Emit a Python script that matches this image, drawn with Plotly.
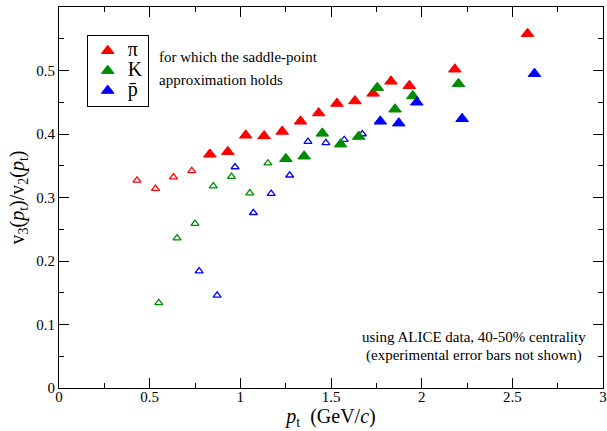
import plotly.graph_objects as go

# ---- data ----
pi_open_x = [0.430, 0.532, 0.631, 0.732]
pi_open_y = [0.327, 0.314, 0.332, 0.342]
pi_fill_x = [0.832, 0.931, 1.030, 1.131, 1.231, 1.332, 1.432, 1.533, 1.632, 1.732, 1.831, 1.932, 2.183, 2.584]
pi_fill_y = [0.368, 0.372, 0.398, 0.397, 0.404, 0.420, 0.433, 0.448, 0.452, 0.464, 0.483, 0.476, 0.502, 0.558]

k_open_x = [0.550, 0.651, 0.750, 0.851, 0.951, 1.052, 1.152]
k_open_y = [0.134, 0.236, 0.259, 0.318, 0.333, 0.307, 0.354]
k_fill_x = [1.251, 1.352, 1.452, 1.553, 1.653, 1.755, 1.853, 1.951, 2.203]
k_fill_y = [0.361, 0.365, 0.401, 0.384, 0.396, 0.473, 0.439, 0.460, 0.479]

p_open_x = [0.773, 0.872, 0.971, 1.072, 1.170, 1.272, 1.373, 1.472, 1.573, 1.673]
p_open_y = [0.184, 0.146, 0.348, 0.276, 0.306, 0.335, 0.388, 0.386, 0.391, 0.400]
p_fill_x = [1.772, 1.874, 1.973, 2.223, 2.622]
p_fill_y = [0.420, 0.417, 0.450, 0.424, 0.495]

x_tickvals = [0, 0.5, 1, 1.5, 2, 2.5, 3]
x_ticktext = ["0", "0.5", "1", "1.5", "2", "2.5", "3"]
y_tickvals = [0, 0.1, 0.2, 0.3, 0.4, 0.5]
y_ticktext = ["0", "0.1", "0.2", "0.3", "0.4", "0.5"]

RED = "#ff0000"
GREEN = "#008c00"
BLUE = "#0000ff"
SERIF = "Liberation Serif"

fig = go.Figure()

species = [
    ("π", RED, pi_open_x, pi_open_y, pi_fill_x, pi_fill_y),
    ("K", GREEN, k_open_x, k_open_y, k_fill_x, k_fill_y),
    ("p\u0304", BLUE, p_open_x, p_open_y, p_fill_x, p_fill_y),
]

for name, col, ox, oy, fx, fy in species:
    fig.add_trace(go.Scatter(
        x=ox, y=oy, mode="markers", showlegend=False, hoverinfo="skip",
        marker=dict(symbol="triangle-up-open", size=7, color=col,
                    line=dict(width=1.3, color=col)),
    ))
for name, col, ox, oy, fx, fy in species:
    fig.add_trace(go.Scatter(
        x=fx, y=fy, mode="markers", hoverinfo="skip",
        name='<span style="font-size:20px">' + name + "</span>",
        marker=dict(symbol="triangle-up", size=11, color=col,
                    line=dict(width=1, color=col)),
    ))

axis_common = dict(
    showline=True, linecolor="black", linewidth=1,
    mirror="allticks", ticks="inside", ticklen=10, tickwidth=1,
    tickcolor="black", showgrid=False, zeroline=False, automargin=False,
    tickfont=dict(family=SERIF, size=15, color="black"),
)

fig.update_xaxes(
    range=[0, 3], tickvals=x_tickvals, ticktext=x_ticktext,
    ticklabelstandoff=-5,
    minor=dict(ticks="inside", ticklen=5, dtick=0.25, tick0=0, tickcolor="black", showgrid=False),
    title=dict(text="<i>p</i><sub>t</sub>  (GeV/<i>c</i>)",
               font=dict(family=SERIF, size=20, color="black"), standoff=0),
    **axis_common,
)
fig.update_yaxes(
    range=[0, 0.6], tickvals=y_tickvals, ticktext=y_ticktext,
    minor=dict(ticks="inside", ticklen=5, dtick=0.05, tick0=0, tickcolor="black", showgrid=False),
    title=dict(text="v<sub>3</sub>(<i>p</i><sub>t</sub>)/v<sub>2</sub>(<i>p</i><sub>t</sub>)",
               font=dict(family=SERIF, size=20, color="black"), standoff=6),
    **axis_common,
)

ANN = dict(family=SERIF, size=15, color="black")
fig.add_annotation(x=0.181, y=0.869, xref="paper", yref="paper", xanchor="left", yanchor="middle",
                   text="for which the saddle-point", showarrow=False, font=ANN)
fig.add_annotation(x=0.181, y=0.809, xref="paper", yref="paper", xanchor="left", yanchor="middle",
                   text="approximation holds", showarrow=False, font=ANN)
fig.add_annotation(x=0.763, y=0.135, xref="paper", yref="paper", xanchor="center", yanchor="middle",
                   text="using ALICE data, 40-50% centrality", showarrow=False, font=ANN)
fig.add_annotation(x=0.763, y=0.085, xref="paper", yref="paper", xanchor="center", yanchor="middle",
                   text="(experimental error bars not shown)", showarrow=False, font=ANN)

fig.update_layout(
    width=607, height=431,
    margin=dict(l=59, r=4, t=7, b=43),
    paper_bgcolor="white", plot_bgcolor="white",
    hovermode=False,
    legend=dict(x=0.051, y=0.927, xanchor="left", yanchor="top",
                bordercolor="black", borderwidth=1, bgcolor="white",
                font=dict(family=SERIF, size=13, color="black"),
                itemwidth=30, tracegroupgap=0),
    showlegend=True,
)

fig.write_html("out.html", config={"displayModeBar": False},
               post_script="document.body.style.margin='0';document.body.style.padding='0';")
